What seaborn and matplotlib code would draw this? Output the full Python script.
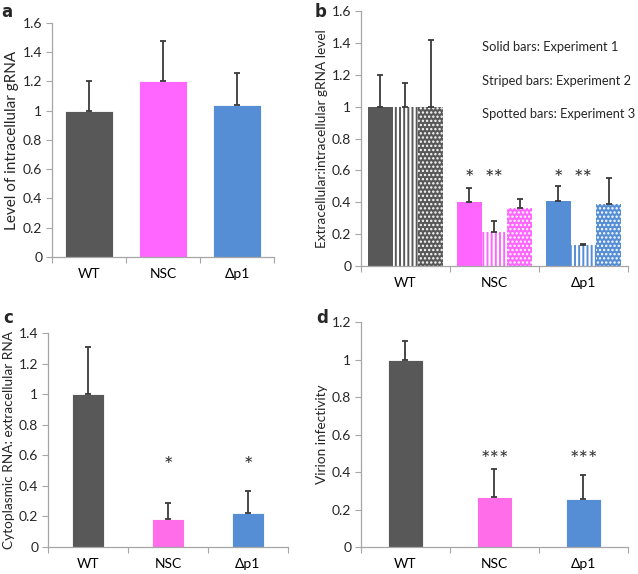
import numpy as np
import pandas as pd
import matplotlib
matplotlib.use("Agg")
import matplotlib.pyplot as plt
import seaborn as sns

sns.set_style("white")
plt.rcParams['font.family'] = ['Lato', 'DejaVu Sans']
plt.rcParams['hatch.linewidth'] = 1.6

strains = ['WT', 'NSC', 'Δp1']
experiments = ['Experiment 1', 'Experiment 2', 'Experiment 3']

# panel a
intra = [1.0, 1.2, 1.04]
intra_err = [0.205, 0.28, 0.22]
# panel b (rows = strain, columns = experiment)
ratio = [[1.0, 1.0, 1.0], [0.40, 0.215, 0.365], [0.41, 0.13, 0.39]]
ratio_err = [[0.20, 0.15, 0.42], [0.09, 0.07, 0.055], [0.09, 0.01, 0.165]]
ratio_stars = [['', '', ''], ['*', '**', ''], ['*', '**', '']]
# panel c
cyto = [1.0, 0.185, 0.225]
cyto_err = [0.31, 0.105, 0.14]
cyto_stars = ['', '*', '*']
# panel d
infect = [1.0, 0.265, 0.255]
infect_err = [0.10, 0.15, 0.13]
infect_stars = ['', '***', '***']

colors_ab = ['#585858', '#ff66ff', '#558ed5']
colors_cd = ['#585858', '#ff6ee8', '#558ed5']
hatches = ['', '||||', '....']
hatch_lw = [1.6, 1.6, 1.1]
axis_grey = '#a6a6a6'
err_col = '#3a3a3a'

fig = plt.figure(figsize=(6.38, 5.74), dpi=100)
ax_a = fig.add_axes([0.0815, 0.5523, 0.348, 0.4077])
ax_b = fig.add_axes([0.5658, 0.5366, 0.4185, 0.4442])
ax_c = fig.add_axes([0.0752, 0.047, 0.3762, 0.3729])
ax_d = fig.add_axes([0.5658, 0.047, 0.4185, 0.392])


def style(ax, ymax, step):
    ax.set_ylim(0, ymax)
    ax.set_xlim(-0.5, 2.5)
    ticks = np.round(np.arange(0, ymax + 1e-9, step), 1)
    ax.set_yticks(ticks)
    ax.set_yticklabels(['0' if t == 0 else ('1' if t == 1 else f'{t:g}') for t in ticks])
    ax.set_xticks([0, 1, 2])
    ax.set_xticklabels(strains)
    ax.set_xticks([-0.5, 0.5, 1.5, 2.5], minor=True)
    ax.tick_params(axis='x', which='major', length=0, pad=8, labelsize=10, colors='black')
    ax.tick_params(axis='x', which='minor', length=4, width=0.8, color=axis_grey, direction='out', bottom=True)
    ax.tick_params(axis='y', length=4, width=0.8, color=axis_grey, direction='out', left=True,
                   labelsize=10, pad=3)
    for s in ['top', 'right']:
        ax.spines[s].set_visible(False)
    for s in ['left', 'bottom']:
        ax.spines[s].set_color(axis_grey)
        ax.spines[s].set_linewidth(0.9)
    ax.set_xlabel('')


def simple_panel(ax, vals, errs, colors, width, ymax, step, ylabel, lab_size, stars=None, star_y=None):
    df = pd.DataFrame({'strain': strains, 'value': vals})
    sns.barplot(data=df, x='strain', y='value', hue='strain', palette=colors,
                width=width, errorbar=None, legend=False, ax=ax, saturation=1,
                edgecolor='white', linewidth=0.6)
    ax.errorbar(range(3), vals, yerr=[np.zeros(3), errs], fmt='none',
                ecolor=err_col, elinewidth=1.3, capsize=2.5, capthick=1.3)
    if stars:
        for i, s in enumerate(stars):
            if s:
                ax.text(i, star_y, s, ha='center', va='center', fontsize=16, color='#333333')
    style(ax, ymax, step)
    ax.set_ylabel(ylabel, fontsize=lab_size, labelpad=3)


simple_panel(ax_a, intra, intra_err, colors_ab, 0.66, 1.6, 0.2, 'Level of intracellular gRNA', 11)
simple_panel(ax_c, cyto, cyto_err, colors_cd, 0.4, 1.4, 0.2, 'Cytoplasmic RNA: extracellular RNA', 9.8,
             cyto_stars, 0.53)
simple_panel(ax_d, infect, infect_err, colors_cd, 0.4, 1.2, 0.2, 'Virion infectivity', 9.8,
             infect_stars, 0.465)

# panel b: grouped bars, experiment shown by hatch
rows = []
for i, st in enumerate(strains):
    for j, ex in enumerate(experiments):
        rows.append({'strain': st, 'experiment': ex, 'value': ratio[i][j]})
df_b = pd.DataFrame(rows)
sns.barplot(data=df_b, x='strain', y='value', hue='experiment', width=0.85,
            errorbar=None, legend=False, ax=ax_b, saturation=1)
bar_conts = list(ax_b.containers)
for j, cont in enumerate(bar_conts):
    for i, bar in enumerate(cont.patches):
        bar.set_facecolor(colors_ab[i])
        bar.set_edgecolor('white')
        bar.set_linewidth(0)
        bar.set_hatch(hatches[j])
        if hasattr(bar, 'set_hatch_linewidth'):
            bar.set_hatch_linewidth(hatch_lw[j])
        xc = bar.get_x() + bar.get_width() / 2
        ax_b.errorbar([xc], [ratio[i][j]], yerr=[[0], [ratio_err[i][j]]], fmt='none',
                      ecolor=err_col, elinewidth=1.3, capsize=2.5, capthick=1.3)
        if ratio_stars[i][j]:
            ax_b.text(xc, 0.545, ratio_stars[i][j], ha='center', va='center',
                      fontsize=16, color='#333333')
style(ax_b, 1.6, 0.2)
ax_b.set_ylabel('Extracellular:intracellular gRNA level', fontsize=9.8, labelpad=3)
ax_b.text(0.453, 0.859, 'Solid bars: Experiment 1', transform=ax_b.transAxes, fontsize=9.3, va='center')
ax_b.text(0.453, 0.725, 'Striped bars: Experiment 2', transform=ax_b.transAxes, fontsize=9.3, va='center')
ax_b.text(0.453, 0.596, 'Spotted bars: Experiment 3', transform=ax_b.transAxes, fontsize=9.3, va='center')

for lab, x, y in [('a', 7, 12), ('b', 321, 12), ('c', 8, 318), ('d', 322, 318)]:
    fig.text(x / 638, 1 - y / 574, lab, fontsize=12, fontweight='bold', ha='center', va='center',
             family=['DejaVu Sans'])

fig.savefig('out.png', dpi=100)
